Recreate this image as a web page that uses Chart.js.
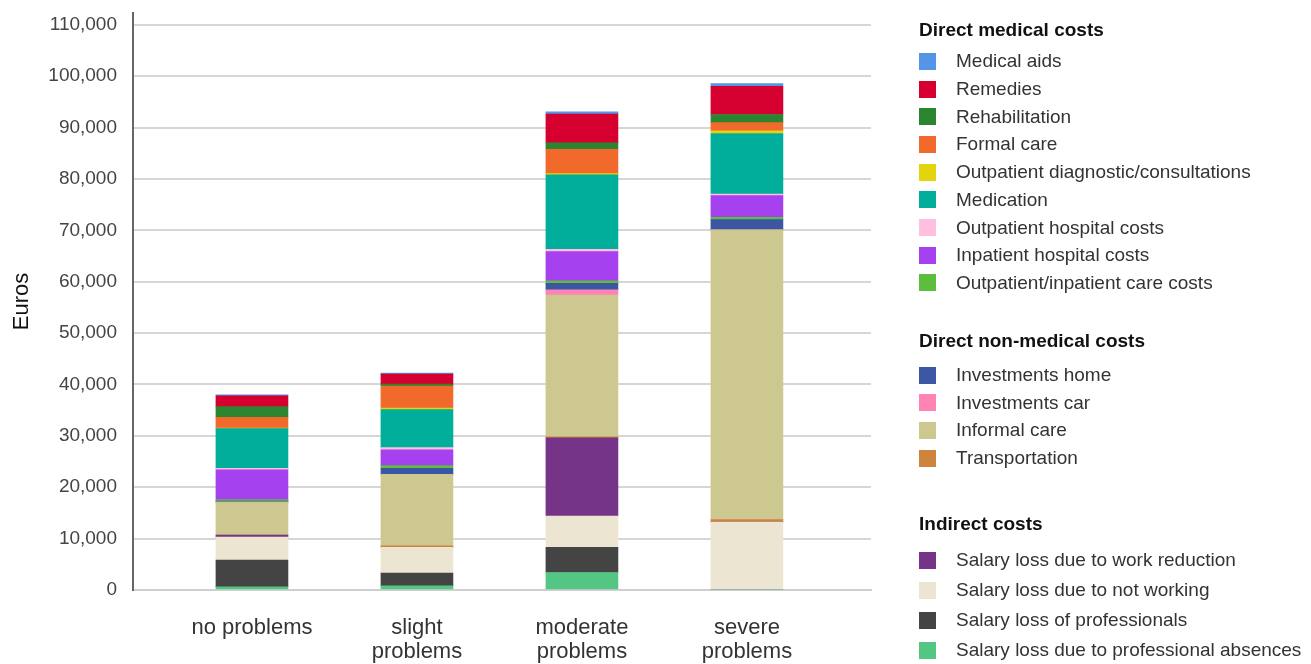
<!DOCTYPE html>
<html>
<head>
<meta charset="utf-8">
<script src="https://cdn.jsdelivr.net/npm/chart.js@4.4.1/dist/chart.umd.min.js"></script>
<style>
  html, body { margin: 0; padding: 0; background: #fff; }
  body { width: 1311px; height: 664px; position: relative; overflow: hidden;
         font-family: "Liberation Sans", Arial, sans-serif; }
  #wrap { position: absolute; left: 0; top: 0; width: 890px; height: 664px; }
  #legend { position: absolute; left: 0; top: 0; width: 1311px; height: 664px; pointer-events: none; }
  .lg-head { position: absolute; left: 919px; font-weight: bold; font-size: 19px; color: #111;
             line-height: 22px; white-space: nowrap; }
  .lg-item { position: absolute; left: 919px; height: 22px; line-height: 22px; font-size: 19px;
             color: #333; white-space: nowrap; }
  .lg-sw { position: absolute; left: 0; top: 2.5px; width: 17px; height: 17px; }
  .lg-tx { position: absolute; left: 37px; top: 0; }
</style>
</head>
<body>
<div id="wrap"><canvas id="c" width="890" height="664"></canvas></div>
<div id="legend"></div>
<script>
// Severity groups on the x axis (one label line per array entry)
const categories = ['no problems', 'slight problems', 'moderate problems', 'severe problems'];
const categoryLines = [['no problems'], ['slight', 'problems'], ['moderate', 'problems'], ['severe', 'problems']];

// Y axis range and tick values (Euros)
const yMax = 112300;
const yTickValues = [0, 10000, 20000, 30000, 40000, 50000, 60000, 70000, 80000, 90000, 100000, 110000];

// Cost components per group, in Euros (stacked bottom to top in this order)
const salaryLossProfessionalAbsences = [600, 800, 3400, 0];
const salaryLossOfProfessionals      = [5200, 2500, 4900, 0];
const salaryLossNotWorking           = [4500, 5000, 6100, 13200];
const salaryLossWorkReduction        = [400, 0, 15200, 0];
const transportation                 = [0, 300, 200, 500];
const informalCare                   = [6400, 13900, 27600, 56400];
const investmentsCar                 = [0, 0, 1000, 0];
const investmentsHome                = [200, 1200, 1300, 2000];
const outpatientInpatientCareCosts   = [300, 500, 450, 450];
const inpatientHospitalCosts         = [5800, 3100, 5700, 4200];
const outpatientHospitalCosts        = [300, 400, 450, 300];
const medication                     = [7700, 7400, 14500, 11800];
const outpatientDiagnostic           = [100, 300, 250, 500];
const formalCare                     = [2100, 4300, 4700, 1600];
const rehabilitation                 = [2100, 400, 1300, 1600];
const remedies                       = [2100, 1900, 5600, 5500];
const medicalAids                    = [200, 200, 400, 500];

const series = [
  { name: 'Salary loss due to professional absences', data: salaryLossProfessionalAbsences, color: '#54c684' },
  { name: 'Salary loss of professionals',             data: salaryLossOfProfessionals,      color: '#444444' },
  { name: 'Salary loss due to not working',           data: salaryLossNotWorking,           color: '#ebe5d2' },
  { name: 'Salary loss due to work reduction',        data: salaryLossWorkReduction,        color: '#763489' },
  { name: 'Transportation',                           data: transportation,                 color: '#cf843d' },
  { name: 'Informal care',                            data: informalCare,                   color: '#cdc890' },
  { name: 'Investments car',                          data: investmentsCar,                 color: '#fe85b3' },
  { name: 'Investments home',                         data: investmentsHome,                color: '#3b56a2' },
  { name: 'Outpatient/inpatient care costs',          data: outpatientInpatientCareCosts,   color: '#5cbe3c' },
  { name: 'Inpatient hospital costs',                 data: inpatientHospitalCosts,         color: '#a641ef' },
  { name: 'Outpatient hospital costs',                data: outpatientHospitalCosts,        color: '#ffc0df' },
  { name: 'Medication',                               data: medication,                     color: '#00ae9b' },
  { name: 'Outpatient diagnostic/consultations',      data: outpatientDiagnostic,           color: '#e3d40e' },
  { name: 'Formal care',                              data: formalCare,                     color: '#f26a2b' },
  { name: 'Rehabilitation',                           data: rehabilitation,                 color: '#2a8430' },
  { name: 'Remedies',                                 data: remedies,                       color: '#d5002f' },
  { name: 'Medical aids',                             data: medicalAids,                    color: '#5595e6' }
];

// Legend sections, items listed top to bottom
const legendGroups = [
  { title: 'Direct medical costs', items: ['Medical aids', 'Remedies', 'Rehabilitation', 'Formal care',
      'Outpatient diagnostic/consultations', 'Medication', 'Outpatient hospital costs',
      'Inpatient hospital costs', 'Outpatient/inpatient care costs'] },
  { title: 'Direct non-medical costs', items: ['Investments home', 'Investments car', 'Informal care', 'Transportation'] },
  { title: 'Indirect costs', items: ['Salary loss due to work reduction', 'Salary loss due to not working',
      'Salary loss of professionals', 'Salary loss due to professional absences'] }
];

const FONT = '"Liberation Sans", Arial, sans-serif';

const chart = new Chart(document.getElementById('c'), {
  type: 'bar',
  data: {
    datasets: series.map(s => ({
      label: s.name,
      data: s.data.map((v, i) => ({ x: i, y: v })),
      backgroundColor: s.color,
      borderWidth: 0,
      barThickness: 72
    }))
  },
  options: {
    responsive: false,
    animation: false,
    events: [],
    layout: { padding: { top: 13, right: 19, left: 0, bottom: 0 } },
    plugins: { legend: { display: false }, tooltip: { enabled: false } },
    scales: {
      x: {
        type: 'linear',
        stacked: true,
        offset: false,
        min: -0.721,
        max: 3.752,
        grid: { display: false, drawTicks: false },
        border: { display: true, color: '#cfcfcf', width: 2 },
        ticks: {
          autoSkip: false,
          maxRotation: 0,
          padding: 26,
          color: '#333',
          font: { size: 22, family: FONT, lineHeight: 1.1 },
          callback: v => (Number.isInteger(v) && categoryLines[v]) ? categoryLines[v] : ''
        },
        afterBuildTicks(s) { s.ticks = categories.map((c, i) => ({ value: i })); },
        afterFit(s) { s.height = 74; s.paddingLeft = 0; s.paddingRight = 0; }
      },
      y: {
        stacked: true,
        min: 0,
        max: yMax,
        grid: { color: '#d6d6d6', lineWidth: 2, drawTicks: false },
        border: { display: true, color: '#666', width: 2 },
        ticks: {
          padding: 16,
          color: '#444',
          font: { size: 19, family: FONT },
          callback: v => v.toLocaleString('en-US')
        },
        afterBuildTicks(s) { s.ticks = yTickValues.map(v => ({ value: v })); },
        title: {
          display: true, text: 'Euros', color: '#111',
          font: { size: 22, family: FONT }, padding: { top: 9, bottom: 0 }
        },
        afterFit(s) { s.width = 133; s.paddingTop = 0; s.paddingBottom = 0; }
      }
    }
  }
});

// Grouped legend built from the chart's datasets
(function buildLegend() {
  const box = document.getElementById('legend');
  const colorOf = {};
  chart.data.datasets.forEach(d => { colorOf[d.label] = d.backgroundColor; });
  const layout = [
    { head: 30,    first: 61.3, row: 27.7 },
    { head: 340.5, first: 375,  row: 27.7 },
    { head: 524,   first: 560,  row: 30 }
  ];
  legendGroups.forEach((g, gi) => {
    const L = layout[gi];
    const h = document.createElement('div');
    h.className = 'lg-head';
    h.style.top = (L.head - 11) + 'px';
    h.textContent = g.title;
    box.appendChild(h);
    g.items.forEach((name, i) => {
      const it = document.createElement('div');
      it.className = 'lg-item';
      it.style.top = (L.first + i * L.row - 11) + 'px';
      const sw = document.createElement('span');
      sw.className = 'lg-sw';
      sw.style.background = colorOf[name];
      const tx = document.createElement('span');
      tx.className = 'lg-tx';
      tx.textContent = name;
      it.appendChild(sw);
      it.appendChild(tx);
      box.appendChild(it);
    });
  });
})();
</script>
</body>
</html>
